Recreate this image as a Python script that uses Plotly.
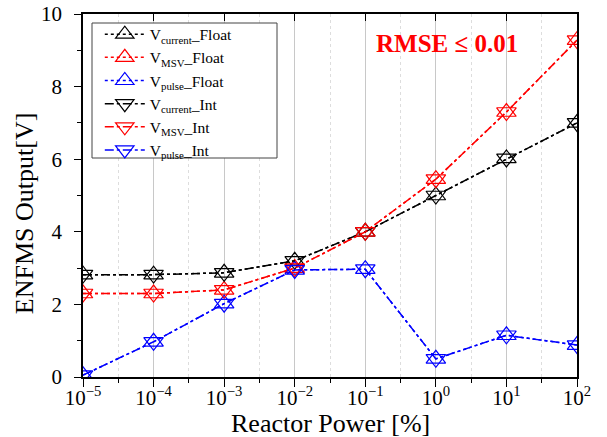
import plotly.graph_objects as go

power = [1e-5, 1e-4, 1e-3, 1e-2, 1e-1, 1e0, 1e1, 1e2]
v_current = [2.82, 2.82, 2.87, 3.2, 4.0, 5.0, 6.02, 7.0]
v_msv = [2.3, 2.3, 2.4, 3.0, 4.0, 5.45, 7.3, 9.28]
v_pulse = [0.05, 0.97, 2.02, 2.95, 2.97, 0.5, 1.15, 0.88]

x_tick_vals = [1e-5, 1e-4, 1e-3, 1e-2, 1e-1, 1e0, 1e1, 1e2]
x_tick_text = ["10<sup>−5</sup>", "10<sup>−4</sup>", "10<sup>−3</sup>", "10<sup>−2</sup>",
               "10<sup>−1</sup>", "10<sup>0</sup>", "10<sup>1</sup>", "10<sup>2</sup>"]
x_minor_vals = [10 ** (e + 0.5) for e in range(-5, 2)]
y_tick_vals = [0, 2, 4, 6, 8, 10]
y_minor_vals = [1, 3, 5, 7, 9]

FONT = "Liberation Serif, Times New Roman, serif"

series = [
    ("current", v_current, "black"),
    ("MSV", v_msv, "red"),
    ("pulse", v_pulse, "blue"),
]

fig = go.Figure()
for name, vals, col in series:
    fig.add_trace(go.Scatter(
        x=power, y=vals, mode="lines+markers",
        name=f"V<sub>{name}</sub>_Float",
        line=dict(color=col, dash="dot", width=1.5),
        marker=dict(symbol="triangle-up-open", size=17, color=col, line=dict(width=1.2, color=col)),
    ))
for name, vals, col in series:
    fig.add_trace(go.Scatter(
        x=power, y=vals, mode="lines+markers",
        name=f"V<sub>{name}</sub>_Int",
        line=dict(color=col, dash="dashdot", width=1.5),
        marker=dict(symbol="triangle-down-open", size=17, color=col, line=dict(width=1.2, color=col)),
    ))
# invisible helper so the top (mirrored, inside-tick) axis is drawn
fig.add_trace(go.Scatter(x=power[:1], y=v_current[:1], xaxis="x2", mode="none",
                         showlegend=False, hoverinfo="skip"))

fig.add_annotation(x=0.737, y=0.92, xref="paper", yref="paper", text="<b>RMSE ≤ 0.01</b>",
                   showarrow=False, xanchor="center", yanchor="middle",
                   font=dict(family=FONT, size=25, color="red"))
fig.add_annotation(x=0.5, y=-0.129, xref="paper", yref="paper", text="Reactor Power [%]",
                   showarrow=False, xanchor="center", yanchor="middle",
                   font=dict(family=FONT, size=26, color="black"))
fig.add_annotation(x=-0.117, y=0.452, xref="paper", yref="paper", text="ENFMS Output[V]",
                   showarrow=False, xanchor="center", yanchor="middle", textangle=-90,
                   font=dict(family=FONT, size=26, color="black"))

# legend frame
fig.add_shape(type="rect", xref="paper", yref="paper",
              x0=(92 - 83) / 494, x1=(277 - 83) / 494,
              y0=(377 - 158) / 363, y1=(377 - 23) / 363,
              line=dict(color="#444", width=1), fillcolor="white", layer="above")

fig.update_layout(
    width=607, height=437,
    margin=dict(l=83, r=30, t=14, b=60, autoexpand=False),
    paper_bgcolor="white", plot_bgcolor="white",
    font=dict(family=FONT, size=21, color="black"),
    showlegend=True,
    legend=dict(x=0.034, y=0.99, xanchor="left", yanchor="top",
                borderwidth=0, bgcolor="rgba(0,0,0,0)",
                font=dict(family=FONT, size=15.5), tracegroupgap=0,
                itemwidth=40),
    xaxis=dict(
        type="log", range=[-5, 2], automargin=False,
        tickvals=x_tick_vals, ticktext=x_tick_text,
        ticks="outside", ticklen=8, tickwidth=1.2, tickcolor="black",
        ticklabelstandoff=-7,
        showline=True, linecolor="black", linewidth=1.5, mirror=True,
        showgrid=True, gridcolor="#c8c8c8", gridwidth=1,
        minor=dict(tickvals=x_minor_vals, ticks="outside", ticklen=4, tickcolor="black",
                   showgrid=True, gridcolor="#dddddd", griddash="dot", gridwidth=1),
        zeroline=False,
    ),
    xaxis2=dict(
        type="log", range=[-5, 2], overlaying="x", side="top",
        tickvals=x_tick_vals, ticks="inside", ticklen=7, tickwidth=1.2, tickcolor="black",
        showticklabels=False, showgrid=False, zeroline=False, automargin=False,
        showline=False,
    ),
    yaxis=dict(
        range=[0, 10], tickvals=y_tick_vals, automargin=False,
        ticks="outside", ticklen=7, tickwidth=1.2, tickcolor="black",
        ticklabelstandoff=8,
        showline=True, linecolor="black", linewidth=1.5, mirror=True,
        showgrid=False, zeroline=False,
        minor=dict(tickvals=y_minor_vals, ticks="outside", ticklen=4, tickcolor="black"),
    ),
)

fig.write_html("out.html", config={"displayModeBar": False},
               post_script="document.body.style.margin='0px';")
